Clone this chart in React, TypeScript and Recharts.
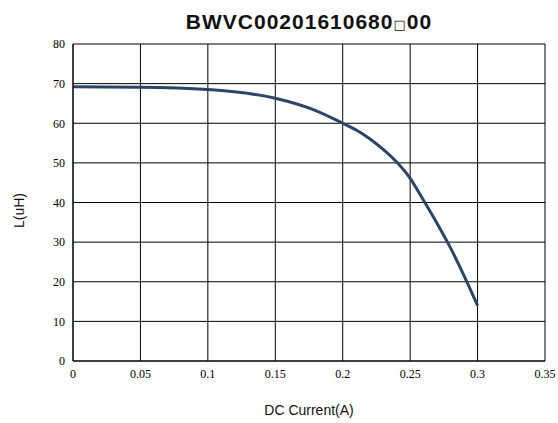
import React from "react";
import { LineChart, Line, XAxis, YAxis, CartesianGrid, Label } from "recharts";

const currents = [0, 0.05, 0.1, 0.15, 0.18, 0.2, 0.21, 0.22, 0.23, 0.24, 0.25, 0.26, 0.27, 0.28, 0.29, 0.3];
const inductance = [69.2, 69.1, 68.5, 66.3, 63.2, 60, 58.3, 56.1, 53.4, 50.2, 46.1, 40.5, 34.7, 28.5, 21.5, 14];
const xTicks = [0, 0.05, 0.1, 0.15, 0.2, 0.25, 0.3, 0.35];
const yTicks = [0, 10, 20, 30, 40, 50, 60, 70, 80];
const titleStart = "BWVC00201610680";
const titleBox = "\u25a1";
const titleEnd = "00";

const data = currents.map((c, i) => ({ x: c, y: inductance[i] }));

const tickStyle = { fontFamily: "Liberation Serif, serif", fontSize: 12, fill: "#000" };

export default function App() {
  return (
    <div style={{ position: "absolute", left: 0, top: 0, width: 558, height: 423, background: "#fff" }}>
      <div
        style={{
          position: "absolute",
          left: 73,
          width: 472,
          top: 10,
          textAlign: "center",
          fontFamily: "Liberation Sans, Arial, sans-serif",
          fontWeight: "bold",
          fontSize: 21,
          letterSpacing: 1,
          color: "#111",
          whiteSpace: "nowrap",
        }}
      >
        {titleStart}
        <span style={{ fontFamily: "DejaVu Sans, sans-serif", fontSize: 13, fontWeight: "normal" }}>{titleBox}</span>
        {titleEnd}
      </div>
      <LineChart width={558} height={423} data={data} margin={{ top: 44, right: 13, bottom: 30, left: 0 }}>
        <CartesianGrid stroke="#000" strokeWidth={1} />
        <XAxis
          dataKey="x"
          type="number"
          domain={[0, 0.35]}
          ticks={xTicks}
          tickLine={false}
          axisLine={{ stroke: "#000" }}
          tick={tickStyle}
          height={32}
          tickFormatter={(v: number) => String(v)}
        >
          <Label
            value="DC Current(A)"
            position="insideBottom"
            offset={-22}
            style={{ fontFamily: "Liberation Sans, Arial, sans-serif", fontSize: 14, fill: "#111" }}
          />
        </XAxis>
        <YAxis
          type="number"
          domain={[0, 80]}
          ticks={yTicks}
          tickLine={false}
          axisLine={{ stroke: "#000" }}
          tick={tickStyle}
          width={73}
        >
          <Label
            value="L(uH)"
            angle={-90}
            position="insideLeft"
            offset={19}
            dx={0}
            dy={8}
            style={{ fontFamily: "Liberation Sans, Arial, sans-serif", fontSize: 14, fill: "#111", textAnchor: "middle" }}
          />
        </YAxis>
        <Line
          dataKey="y"
          type="monotone"
          stroke="#2c4566"
          strokeWidth={3}
          dot={false}
          isAnimationActive={false}
        />
      </LineChart>
    </div>
  );
}
